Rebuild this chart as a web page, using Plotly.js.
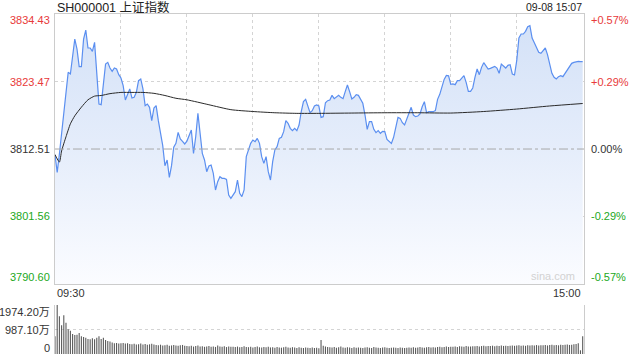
<!DOCTYPE html>
<html>
<head>
<meta charset="utf-8">
<script src="https://cdn.plot.ly/plotly-3.0.1.min.js"></script>
<style>html,body{margin:0;padding:0;background:#fff;}#chart{width:640px;height:360px;}</style>
</head>
<body>
<div id="chart"></div>
<script>
// ---- data ----
const chartTitle = 'SH000001 上证指数';
const stampText = '09-08 15:07';
const prevClose = 3812.51;

const priceTicks = [3834.43, 3823.47, 3812.51, 3801.56, 3790.60];
const priceLabels = ['3834.43', '3823.47', '3812.51', '3801.56', '3790.60'];
const pctLabels = ['+0.57%', '+0.29%', '0.00%', '-0.29%', '-0.57%'];
const timeTicks = [0, 240];
const timeLabels = ['09:30', '15:00'];
const gridMinutes = [30, 60, 90, 120, 150, 180, 210];
const volTicks = [1974.20, 987.10, 0];
const volLabels = ['1974.20万', '987.10万', '0'];

const price = [
3811.60,3808.73,3811.70,3814.95,3818.47,3820.90,3824.96,3824.69,3828.04,3830.37,
3828.75,3825.88,3825.88,3830.37,3831.83,3828.91,3828.91,3828.37,3829.83,3825.50,
3819.82,3819.71,3823.61,3826.31,3826.58,3825.67,3825.12,3825.67,3825.50,3824.58,
3824.04,3822.80,3820.47,3821.44,3822.26,3820.79,3820.90,3821.72,3823.61,3823.88,
3822.26,3819.55,3819.82,3819.28,3817.12,3819.17,3819.55,3817.12,3815.22,3813.06,
3809.81,3810.73,3807.92,3809.81,3812.79,3813.44,3815.22,3814.14,3813.76,3813.33,
3813.80,3814.78,3815.60,3811.81,3814.51,3818.30,3814.78,3811.81,3810.73,3808.83,
3809.75,3809.91,3808.56,3805.86,3807.21,3808.02,3807.75,3807.75,3807.59,3805.05,
3804.50,3805.05,3805.59,3807.48,3805.32,3804.78,3805.86,3811.27,3812.46,3813.43,
3813.97,3813.70,3814.24,3813.43,3811.27,3810.19,3811.27,3808.83,3807.48,3810.46,
3812.35,3812.89,3814.24,3814.41,3815.33,3817.11,3816.68,3815.87,3815.49,3815.87,
3815.49,3816.41,3818.57,3820.20,3820.57,3819.38,3818.41,3818.74,3819.49,3819.66,
3819.49,3817.65,3817.76,3820.03,3820.36,3820.47,3821.22,3820.68,3820.90,3821.22,
3820.90,3820.68,3821.82,3822.90,3821.82,3820.63,3820.90,3821.33,3821.22,3820.57,
3819.93,3818.03,3815.71,3816.95,3816.95,3815.71,3815.16,3815.49,3815.06,3815.38,
3815.33,3814.08,3813.70,3813.43,3814.41,3815.87,3817.65,3817.49,3816.79,3816.41,
3817.49,3818.57,3819.28,3818.03,3817.76,3817.87,3818.19,3819.38,3820.20,3818.41,
3818.57,3818.57,3818.57,3818.74,3820.57,3821.39,3822.52,3823.82,3824.47,3824.40,
3823.00,3823.07,3822.96,3823.61,3823.61,3824.04,3824.42,3823.34,3821.88,3821.88,
3822.42,3824.15,3825.50,3824.58,3825.77,3826.53,3826.04,3825.50,3825.61,3825.77,
3825.93,3825.66,3824.80,3826.31,3825.93,3825.66,3826.10,3826.21,3824.69,3824.53,
3826.85,3830.53,3831.18,3831.18,3831.62,3832.37,3832.54,3830.53,3829.78,3829.02,
3828.21,3828.04,3828.48,3828.91,3827.83,3826.04,3824.80,3824.15,3823.88,3824.26,
3824.42,3824.26,3824.80,3825.50,3826.04,3826.42,3826.58,3826.69,3826.75,3826.69,
3826.69
];

const avgMinutes = [0,2,3,5,7,9,12,15,18,21,25,30,35,40,45,50,55,60,70,80,90,100,110,120,135,150,165,180,195,210,225,240];
const avgPrice = [3811.6,3810.4,3812.2,3814.5,3816.6,3817.9,3819.3,3820.5,3821.1,3821.2,3821.5,3821.7,3821.7,3821.7,3821.55,3821.2,3820.75,3820.5,3819.7,3818.9,3818.6,3818.4,3818.3,3818.3,3818.35,3818.4,3818.4,3818.35,3818.6,3819.0,3819.5,3819.9];

const volume = [
720,1974,1520,1160,1560,1260,1000,940,810,770,
780,850,720,690,650,600,590,630,590,650,
720,600,650,560,520,500,460,430,440,420,
430,445,425,430,400,390,410,380,395,420,
385,400,370,390,410,380,360,350,375,340,
355,370,330,345,360,340,330,350,365,335,
320,310,330,300,320,345,300,310,290,305,
320,295,300,285,340,300,290,310,280,300,
295,290,280,300,270,285,310,280,275,290,
265,280,300,270,260,285,275,290,265,270,
250,280,265,255,270,290,260,250,275,260,
245,270,255,240,265,250,245,260,240,250,
230,560,330,300,280,270,260,285,255,270,
300,260,250,275,260,245,270,255,265,250,
240,260,275,250,240,280,265,250,245,260,
270,250,240,255,265,250,245,260,255,240,
250,260,255,270,250,265,280,260,255,270,
285,260,275,265,280,290,270,285,300,280,
290,295,300,285,310,300,295,320,305,300,
315,310,325,300,320,330,310,325,320,335,
315,330,320,340,325,335,320,330,345,330,
340,350,335,345,330,355,340,350,345,360,
340,355,350,365,345,360,370,355,365,350,
375,360,370,380,365,375,390,400,430,150,
720
];

// ---- build ----
const minutes = price.map((_, i) => i);
const FONT = 'Liberation Sans, Arial, Noto Sans CJK SC, sans-serif';
const RED = '#e83a3a', GREEN = '#22a822', DARK = '#333333';
const labelColors = [RED, RED, DARK, GREEN, GREEN];
const yShifts = [-6, 0, 0, 0, 7];

const traces = [
  {
    x: minutes, y: price, type: 'scatter', mode: 'lines',
    line: {color: '#5b8ff0', width: 1.2},
    fill: 'tozeroy',
    fillgradient: {type: 'vertical', start: priceTicks[4], stop: priceTicks[0],
      colorscale: [[0, '#fbfcff'], [0.5, '#e5edfb'], [1, '#d3e1f7']]},
    xaxis: 'x', yaxis: 'y', hoverinfo: 'skip'
  },
  {
    x: avgMinutes, y: avgPrice, type: 'scatter', mode: 'lines',
    line: {color: '#2a2a2a', width: 1, shape: 'spline', smoothing: 0.6},
    xaxis: 'x', yaxis: 'y', hoverinfo: 'skip'
  },
  {
    x: minutes, y: volume, type: 'bar',
    marker: {color: '#5a5a5a', line: {width: 0}},
    xaxis: 'x2', yaxis: 'y2', hoverinfo: 'skip'
  }
];

const annotations = [];
priceTicks.forEach((v, k) => {
  annotations.push({xref: 'paper', yref: 'y', x: 0, y: v, xanchor: 'right', yanchor: 'middle',
    xshift: -3, yshift: yShifts[k], showarrow: false, text: priceLabels[k],
    font: {family: FONT, size: 11, color: labelColors[k]}});
  annotations.push({xref: 'paper', yref: 'y', x: 1, y: v, xanchor: 'left', yanchor: 'middle',
    xshift: 5, yshift: yShifts[k], showarrow: false, text: pctLabels[k],
    font: {family: FONT, size: 11, color: labelColors[k]}});
});
timeTicks.forEach((t, k) => {
  annotations.push({xref: 'x', yref: 'paper', x: t, y: 0.2059, xanchor: k === 0 ? 'left' : 'right',
    yanchor: 'top', yshift: -1, showarrow: false, text: timeLabels[k],
    font: {family: FONT, size: 11, color: DARK}});
});
const volShifts = [-7, 0, 6];
volTicks.forEach((v, k) => {
  annotations.push({xref: 'paper', yref: 'y2', x: 0, y: v, xanchor: 'right', yanchor: 'middle',
    xshift: -3, yshift: volShifts[k], showarrow: false, text: volLabels[k],
    font: {family: FONT, size: 11, color: DARK}});
});
annotations.push({xref: 'paper', yref: 'paper', x: 0, y: 1, xanchor: 'left', yanchor: 'middle',
  yshift: 7, showarrow: false, text: chartTitle, font: {family: FONT, size: 12.5, color: '#222'}});
annotations.push({xref: 'paper', yref: 'paper', x: 1, y: 1, xanchor: 'right', yanchor: 'middle',
  yshift: 7, showarrow: false, text: stampText, font: {family: FONT, size: 10.5, color: '#222'}});
annotations.push({xref: 'paper', yref: 'y', x: 0.941, y: priceTicks[4], xanchor: 'center', yanchor: 'bottom',
  yshift: 0, showarrow: false, text: 'sina.com', font: {family: FONT, size: 11, color: '#d2d2d2'}});

const layout = {
  width: 640, height: 360,
  margin: {l: 55, r: 56, t: 14, b: 6},
  paper_bgcolor: '#ffffff', plot_bgcolor: 'rgba(0,0,0,0)',
  showlegend: false, bargap: 0.5,
  xaxis: {domain: [0, 1], range: [0, 240.6], anchor: 'y', tickvals: gridMinutes,
    showticklabels: false, ticks: '', showgrid: true, gridcolor: '#d4d4d4', griddash: 'dot',
    showline: true, mirror: true, linecolor: '#cccccc', linewidth: 1, zeroline: false, fixedrange: true},
  yaxis: {domain: [0.2059, 1], range: [priceTicks[4], priceTicks[0]], anchor: 'x',
    tickvals: [priceTicks[1], priceTicks[3]], showticklabels: false, ticks: '',
    showgrid: true, gridcolor: '#d4d4d4', griddash: 'dot',
    showline: true, mirror: true, linecolor: '#cccccc', linewidth: 1, zeroline: false, fixedrange: true},
  xaxis2: {domain: [0, 1], range: [0, 240.6], anchor: 'y2', showticklabels: false, ticks: '',
    showgrid: false, showline: false, zeroline: false, fixedrange: true},
  yaxis2: {domain: [0, 0.1441], range: [0, volTicks[0]], anchor: 'x2',
    tickvals: [volTicks[0], volTicks[1]], showticklabels: false, ticks: '',
    showgrid: true, gridcolor: '#d4d4d4', griddash: 'dot',
    showline: true, mirror: true, linecolor: '#cccccc', linewidth: 1, zeroline: false, fixedrange: true},
  shapes: [{type: 'line', xref: 'paper', yref: 'y', x0: 0, x1: 1, y0: prevClose, y1: prevClose,
    line: {color: '#a8a8a8', width: 1, dash: 'dashdot'}}],
  annotations: annotations
};

Plotly.newPlot('chart', traces, layout, {staticPlot: true, displayModeBar: false});
</script>
</body>
</html>
